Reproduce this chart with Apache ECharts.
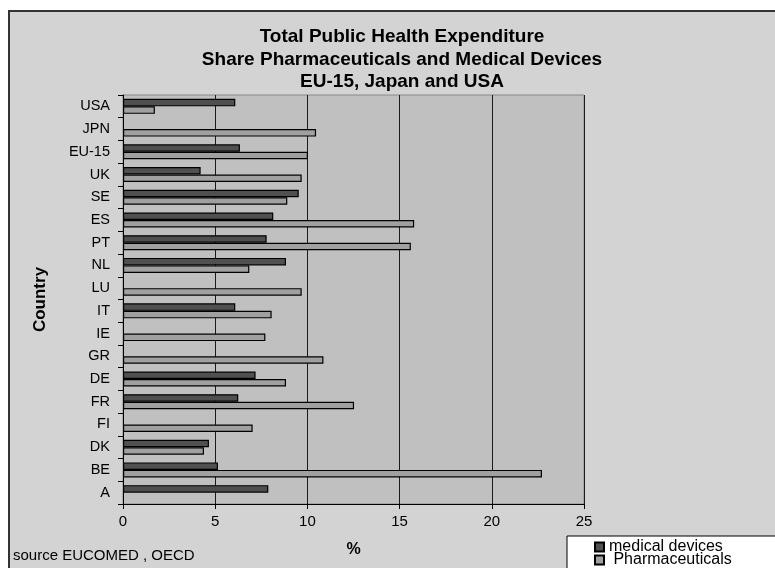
<!DOCTYPE html>
<html>
<head>
<meta charset="utf-8">
<script src="https://cdn.jsdelivr.net/npm/echarts@6/dist/echarts.min.js"></script>
<style>
  html, body { margin: 0; padding: 0; background: #fff; }
  #wrap { position: relative; width: 775px; height: 568px; overflow: hidden; }
  #frame {
    position: absolute; left: 8px; top: 10px; width: 800px; height: 600px;
    background: #d3d3d3; border-top: 2px solid #333; border-left: 2px solid #333;
  }
  #chart { position: absolute; left: 0; top: 0; width: 775px; height: 568px; }
</style>
</head>
<body>
<div id="wrap">
  <div id="frame"></div>
  <div id="chart"></div>
</div>
<script>
// bottom to top, as on the axis
const countries = ['A', 'BE', 'DK', 'FI', 'FR', 'DE', 'GR', 'IE', 'IT', 'LU', 'NL', 'PT', 'ES', 'SE', 'UK', 'EU-15', 'JPN', 'USA']
const medicalDevices = [7.88, 5.15, 4.66, null, 6.25, 7.19, null, null, 6.09, null, 8.84, 7.79, 8.15, 9.53, 4.21, 6.34, null, 6.09]
const pharmaceuticals = [null, 22.72, 4.39, 7.03, 12.53, 8.84, 10.87, 7.72, 8.06, 9.69, 6.85, 15.61, 15.79, 8.91, 9.69, 10.03, 10.47, 1.73]
const xTicks = [0, 5, 10, 15, 20, 25]

const font = '"Liberation Sans", Arial, sans-serif'
const chart = echarts.init(document.getElementById('chart'))

chart.setOption({
  backgroundColor: 'transparent',
  animation: false,
  textStyle: { fontFamily: font },
  title: {
    text: 'Total Public Health Expenditure\nShare Pharmaceuticals and Medical Devices\nEU-15, Japan and USA',
    left: 397,
    textAlign: 'center',
    top: 21,
    textStyle: { fontFamily: font, fontSize: 19, fontWeight: 'bold', color: '#000', lineHeight: 22.5 }
  },
  legend: {
    orient: 'vertical',
    left: 567,
    top: 536,
    height: 60,
    backgroundColor: '#fff',
    borderColor: '#000',
    borderWidth: 1,
    borderRadius: 0,
    padding: [3, 60, 4, 27],
    itemGap: -3,
    itemWidth: 9,
    itemHeight: 9,
    icon: 'rect',
    textStyle: { fontFamily: font, fontSize: 16, color: '#000', lineHeight: 14, padding: [0, 0, 0, 0] },
    data: ['medical devices', 'Pharmaceuticals'],
    formatter: name => (name === 'Pharmaceuticals' ? ' ' + name : name)
  },
  graphic: [{
    type: 'text',
    left: 13,
    top: 548,
    style: { text: 'source EUCOMED , OECD', fontFamily: font, fontSize: 15, fill: '#000' }
  }],
  grid: {
    left: 123,
    right: 191,
    top: 95,
    bottom: 64,
    show: true,
    backgroundColor: '#c0c0c0',
    borderColor: '#888',
    borderWidth: 1
  },
  xAxis: {
    type: 'value',
    min: xTicks[0],
    max: xTicks[xTicks.length - 1],
    interval: 5,
    name: '%',
    nameLocation: 'middle',
    nameGap: 38,
    nameTextStyle: { fontFamily: font, fontSize: 16, fontWeight: 'bold', color: '#000' },
    axisLine: { show: true, lineStyle: { color: '#000', width: 1 } },
    axisTick: { show: true, length: 5, lineStyle: { color: '#000' } },
    axisLabel: { color: '#000', fontSize: 15, margin: 10, fontFamily: font },
    splitLine: { show: true, lineStyle: { color: '#1a1a1a', width: 1 } }
  },
  yAxis: {
    type: 'category',
    data: countries,
    name: 'Country',
    nameLocation: 'middle',
    nameRotate: 90,
    nameGap: 74,
    nameTextStyle: { fontFamily: font, fontSize: 17, fontWeight: 'bold', color: '#000' },
    axisLine: { show: true, lineStyle: { color: '#000', width: 1 } },
    axisTick: { show: true, length: 5, lineStyle: { color: '#000' } },
    axisLabel: { color: '#000', fontSize: 14.5, margin: 13, fontFamily: font },
    splitLine: { show: false }
  },
  series: [
    {
      name: 'medical devices',
      type: 'bar',
      data: medicalDevices,
      barWidth: 7.5,
      barGap: '0%',
      itemStyle: { color: '#505050', borderColor: '#000', borderWidth: 1.2 }
    },
    {
      name: 'Pharmaceuticals',
      type: 'bar',
      data: pharmaceuticals,
      barWidth: 7.5,
      barGap: '0%',
      itemStyle: { color: '#a0a0a0', borderColor: '#000', borderWidth: 1.2 }
    }
  ]
})
</script>
</body>
</html>
